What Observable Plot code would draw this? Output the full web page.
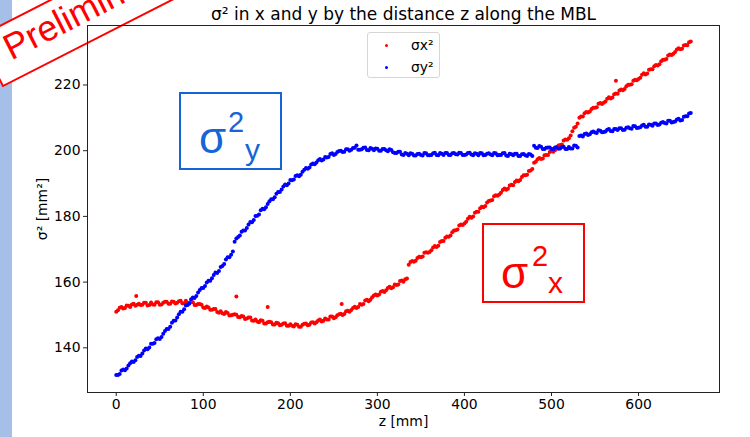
<!DOCTYPE html>
<html>
<head>
<meta charset="utf-8">
<script src="https://cdn.jsdelivr.net/npm/d3@7"></script>
<script src="https://cdn.jsdelivr.net/npm/@observablehq/plot@0.6"></script>
<style>
  html, body { margin: 0; padding: 0; background: white; }
  #wrap { position: relative; width: 750px; height: 437px; overflow: hidden; background: white; }
  #strip { position: absolute; left: 0; top: 0; width: 12px; height: 437px; background: #a6bfe8; z-index: 0; }
  #banner { position: absolute; left: 0; top: 0; z-index: 1; }
  #chart { position: absolute; left: 0; top: 0; z-index: 2; }
  #chart svg, #chart svg text { font-family: "DejaVu Sans", sans-serif; }
  .ann { position: absolute; z-index: 3; box-sizing: border-box; font-family: "Liberation Sans", Arial, sans-serif; }
  .ann span { position: absolute; line-height: 1; }
  #legend { position: absolute; z-index: 3; left: 367px; top: 32px; width: 73px; height: 46px; box-sizing: border-box;
            border: 1px solid #d6d6d6; border-radius: 3px; background: rgba(255,255,255,0.8);
            font-family: "DejaVu Sans", sans-serif; font-size: 13.9px; color: #000; }
  #legend .dot { position: absolute; width: 3px; height: 3px; border-radius: 50%; }
  #legend .lab { position: absolute; line-height: 14px; }
</style>
</head>
<body>
<div id="wrap">
  <div id="strip"></div>
  <svg id="banner" width="750" height="437">
    <g transform="translate(3,86) rotate(-27)">
      <rect x="0" y="-55" width="330" height="55" fill="white" stroke="#ff0000" stroke-width="2"></rect>
      <text x="19" y="-19" font-family="Liberation Sans, Arial, sans-serif" font-size="36" fill="#ff0000">Preliminary</text>
    </g>
  </svg>
  <div id="chart"></div>
  <div id="legend">
    <div class="dot" style="left:16.5px; top:10.5px; background:#ff0000;"></div>
    <div class="lab" style="left:43px; top:5px;">σx²</div>
    <div class="dot" style="left:16.5px; top:32.5px; background:#0000ff;"></div>
    <div class="lab" style="left:43px; top:27px;">σy²</div>
  </div>
  <div class="ann" style="left:179px; top:92px; width:103px; height:78px; border:2px solid #1565d8; color:#1565d8;">
    <span style="left:18px; top:22px; font-size:44px;">σ</span>
    <span style="left:47px; top:14px; font-size:29px;">2</span>
    <span style="left:64px; top:41px; font-size:30px;">y</span>
  </div>
  <div class="ann" style="left:482px; top:223px; width:103px; height:80px; border:2px solid #ff0000; color:#ff0000;">
    <span style="left:17px; top:26px; font-size:44px;">σ</span>
    <span style="left:48px; top:17px; font-size:29px;">2</span>
    <span style="left:64px; top:43px; font-size:30px;">x</span>
  </div>
</div>
<script>
const titleText = "σ² in x and y by the distance z along the MBL";
const xLabel = "z [mm]";
const yLabel = "σ² [mm²]";
const xTicks = [0, 100, 200, 300, 400, 500, 600];
const yTicks = [140, 160, 180, 200, 220];

// readings every 4 mm along z starting at 0 mm, and a second set starting at 2 mm
const zStart = 0;
const zStartB = 2;
const zStep = 4;

const sigmaX2 = [
  151.0,152.2,152.0,152.9,152.4,153.4,153.1,153.0,153.7,152.9,
  153.8,153.1,153.9,153.2,154.0,153.4,154.1,153.5,154.2,153.6,
  154.3,153.5,153.9,153.0,153.3,152.3,152.6,151.6,151.8,150.9,
  151.1,150.3,150.6,149.9,150.2,149.4,149.7,148.8,149.2,148.3,
  148.6,147.8,148.2,147.4,147.9,147.1,147.6,146.9,147.4,146.7,
  147.2,146.5,147.0,146.4,147.3,146.9,147.7,147.4,148.3,148.0,
  148.9,148.6,149.5,149.3,150.2,150.0,151.1,151.0,152.1,152.1,
  153.3,153.3,154.6,154.6,155.9,155.9,157.1,157.0,158.2,158.1,
  159.3,159.3,160.5,160.9,165.3,166.4,166.5,167.7,167.8,169.1,
  169.2,170.5,170.7,172.2,172.5,173.9,174.2,175.7,176.0,177.5,
  177.8,179.3,179.6,181.1,181.4,182.9,183.2,184.7,185.0,186.4,
  186.7,188.0,188.1,189.4,189.5,190.9,191.1,192.5,192.7,194.0,
  196.3,197.4,197.5,198.6,198.7,199.9,200.1,201.6,201.9,203.4,
  203.8,205.9,207.3,210.0,210.4,211.8,211.9,213.1,213.2,214.5,
  214.6,215.8,215.9,217.2,217.3,218.6,218.8,220.1,220.2,221.6,
  221.8,223.1,223.2,224.6,224.8,226.1,226.3,227.7,227.9,229.3,
  229.5,230.8,230.9,232.0,232.1,233.2
];
const sigmaX2B = [
  151.4,152.4,152.1,152.8,153.2,152.8,153.4,153.1,153.7,153.0,
  153.2,153.9,153.1,153.7,154.0,153.4,154.0,153.7,154.3,153.6,
  153.7,154.1,153.0,153.3,153.1,152.1,152.3,151.6,151.8,150.7,
  150.5,150.9,149.8,150.1,150.1,149.3,149.5,148.9,149.2,148.2,
  148.0,148.4,147.4,147.8,147.8,147.1,147.5,147.0,147.5,146.7,
  146.7,147.2,146.4,147.0,147.4,147.0,147.8,147.8,148.6,148.2,
  148.6,149.5,149.0,149.9,150.4,150.3,151.3,151.5,152.5,152.4,
  153.1,154.4,154.2,155.4,156.2,156.2,157.3,157.5,158.6,158.4,
  159.1,160.3,160.1,161.1,166.1,166.2,167.3,167.6,168.9,168.9,
  169.7,171.0,171.1,172.5,173.5,173.8,175.2,175.8,177.2,177.4,
  178.4,179.9,180.0,181.4,182.5,182.8,184.2,184.8,186.1,186.3,
  187.2,188.5,188.4,189.6,190.5,190.7,192.0,192.5,193.8,194.4,
  196.6,197.8,197.6,198.7,199.6,199.7,201.1,201.7,203.1,203.3,
  204.6,207.0,208.3,210.4,211.4,211.6,212.7,213.1,214.3,214.2,
  215.0,216.3,216.2,217.4,218.3,218.4,219.6,220.1,221.3,221.4,
  222.2,223.6,223.5,224.8,225.7,225.9,227.2,227.7,229.0,229.1,
  230.0,231.2,231.0,232.2,233.0
];

const sigmaY2 = [
  131.7,132.0,133.4,133.7,135.3,135.7,137.2,137.5,139.2,139.6,
  141.2,141.5,142.9,143.3,145.1,145.7,147.6,148.3,150.2,151.0,
  152.9,153.5,155.3,155.8,157.6,158.2,159.9,160.4,162.2,162.8,
  164.6,165.5,167.6,168.3,172.3,173.7,175.3,175.7,177.5,178.2,
  180.1,180.6,182.3,182.8,184.6,185.2,186.9,187.4,189.1,189.5,
  191.1,191.2,192.5,192.7,194.2,194.5,195.8,195.9,197.1,197.0,
  198.1,198.1,199.2,199.0,199.9,199.6,200.4,200.0,200.8,201.6,
  200.3,200.9,200.2,200.8,200.1,200.6,200.0,200.5,199.8,200.2,
  199.3,199.7,198.8,199.3,198.6,199.1,198.5,199.1,198.5,199.2,
  198.6,199.2,198.7,199.3,198.7,199.3,198.7,199.3,198.8,199.3,
  198.7,199.3,198.8,199.2,198.6,199.2,198.7,199.2,198.6,199.2,
  198.7,199.2,198.5,199.1,198.6,199.1,198.4,199.0,198.4,198.8,
  201.5,200.8,201.2,200.5,201.0,200.5,201.0,200.6,201.1,200.5,
  201.1,200.7,201.5,204.5,204.3,205.2,205.0,205.8,205.4,206.1,
  205.7,206.4,206.0,206.6,206.3,206.8,206.4,207.1,206.7,207.4,
  207.0,207.7,207.3,208.0,207.6,208.3,208.0,208.7,208.3,209.1,
  208.7,209.5,209.2,210.3,210.5,211.5
];
const sigmaY2B = [
  131.7,133.1,133.2,134.6,135.8,136.2,137.6,138.3,139.8,140.1,
  141.2,142.6,142.7,144.3,145.7,146.4,148.2,149.2,151.0,151.7,
  153.0,154.8,155.2,156.8,158.2,158.8,160.4,161.2,162.9,163.4,
  164.9,166.9,167.6,169.3,173.3,174.2,175.7,176.5,178.3,178.9,
  180.2,181.9,182.2,183.8,185.2,185.8,187.4,188.2,189.7,190.0,
  191.0,192.3,192.2,193.6,194.7,194.9,196.1,196.4,197.5,197.3,
  197.9,199.0,198.7,199.6,200.0,199.7,200.4,200.3,200.9,200.3,
  200.4,201.0,200.1,200.6,200.7,200.0,200.5,200.1,200.4,199.5,
  199.3,199.7,198.7,199.1,199.2,198.5,199.0,198.7,199.3,198.6,
  198.7,199.4,198.6,199.1,199.3,198.7,199.2,198.9,199.4,198.7,
  198.8,199.4,198.6,199.1,199.3,198.6,199.1,198.8,199.3,198.6,
  198.7,199.3,198.4,198.9,199.1,198.4,198.9,198.6,199.0,198.4,
  200.9,201.4,200.5,200.9,201.0,200.4,201.0,200.7,201.2,200.5,
  200.7,201.6,201.0,204.6,205.1,204.8,205.6,205.5,206.2,205.6,
  205.8,206.6,205.9,206.6,206.8,206.3,207.0,206.8,207.5,206.9,
  207.1,207.9,207.3,207.9,208.3,207.8,208.5,208.4,209.1,208.6,
  208.9,209.7,209.3,210.5,211.3
];

// isolated points of σx² off the main band
const outlierZ  = [23, 138, 174, 259, 574];
const outlierX2 = [155.8, 155.6, 152.4, 153.3, 221.3];

const toRows = (vals, start) => vals.map((v, i) => ({z: start + i * zStep, v}));
const xRows = toRows(sigmaX2, zStart)
  .concat(toRows(sigmaX2B, zStartB))
  .concat(outlierZ.map((zz, i) => ({z: zz, v: outlierX2[i]})));
const yRows = toRows(sigmaY2, zStart).concat(toRows(sigmaY2B, zStartB));

const FONT = "DejaVu Sans, sans-serif";

const chart = Plot.plot({
  width: 750,
  height: 437,
  marginLeft: 87,
  marginRight: 31,
  marginTop: 25,
  marginBottom: 45,
  style: {background: "transparent", fontFamily: FONT, fontSize: "13.9px", color: "#000"},
  x: {domain: [-33, 693]},
  y: {domain: [126.4, 238.1]},
  marks: [
    Plot.dot(xRows, {x: "z", y: "v", r: 2, fill: "#ff0000"}),
    Plot.dot(yRows, {x: "z", y: "v", r: 2, fill: "#0000ff"}),
    Plot.frame({stroke: "#222", strokeWidth: 1}),
    Plot.axisX({ticks: xTicks, tickSize: 4, tickPadding: 3, label: null, fontSize: 13.9, fontFamily: FONT, stroke: "#222"}),
    Plot.axisY({ticks: yTicks, tickSize: 4, tickPadding: 3, label: null, fontSize: 13.9, fontFamily: FONT, stroke: "#222"}),
    Plot.text([xLabel], {text: d => d, frameAnchor: "bottom", dy: 29, lineAnchor: "middle", textAnchor: "middle", fontSize: 13.9, fontFamily: FONT, fill: "#000"}),
    Plot.text([yLabel], {text: d => d, frameAnchor: "left", dx: -45, rotate: -90, lineAnchor: "middle", textAnchor: "middle", fontSize: 13.9, fontFamily: FONT, fill: "#000"}),
    Plot.text([titleText], {text: d => d, frameAnchor: "top", dy: -11, lineAnchor: "middle", textAnchor: "middle", fontSize: 17, fontFamily: FONT, fill: "#000"})
  ]
});
document.getElementById("chart").appendChild(chart);
</script>
</body>
</html>
